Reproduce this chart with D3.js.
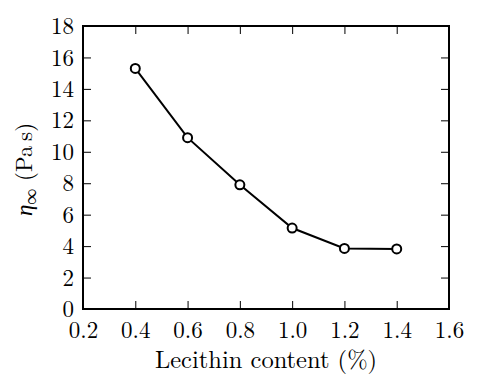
<!DOCTYPE html>
<html>
<head>
<meta charset="utf-8">
<script src="https://cdn.jsdelivr.net/npm/d3@7"></script>
<style>
  body { margin: 0; background: #fff; }
</style>
</head>
<body>
<svg width="480" height="391"></svg>
<script>
var lecithin = [0.4, 0.6, 0.8, 1.0, 1.2, 1.4];
var viscosity = [15.3, 10.9, 7.9, 5.15, 3.85, 3.82];
var xTicks = [0.2, 0.4, 0.6, 0.8, 1.0, 1.2, 1.4, 1.6];
var yTicks = [0, 2, 4, 6, 8, 10, 12, 14, 16, 18];

var FONT = "'Latin Modern Roman', 'Liberation Serif', serif";

var svg = d3.select("svg"),
    margin = {top: 26, right: 31, bottom: 82, left: 83},
    width = +svg.attr("width") - margin.left - margin.right,
    height = +svg.attr("height") - margin.top - margin.bottom;

var x = d3.scaleLinear().domain([0.2, 1.6]).range([0, width]),
    y = d3.scaleLinear().domain([0, 18]).range([height, 0]);

var g = svg.append("g")
    .attr("transform", "translate(" + margin.left + "," + margin.top + ")");

var tickLen = 8;

// inward ticks, mirrored on all four sides
function styleAxis(sel) {
    sel.attr("font-family", null).attr("font-size", null);
    sel.select(".domain").remove();
    sel.selectAll("line").attr("stroke", "#000").attr("stroke-width", 1);
    sel.selectAll("text")
        .style("font-family", FONT)
        .style("font-size", "23px")
        .attr("fill", "#000");
}

g.append("g")
    .attr("transform", "translate(0," + height + ")")
    .call(d3.axisBottom(x).tickValues(xTicks).tickFormat(d3.format(".1f"))
        .tickSizeInner(-tickLen).tickPadding(13))
    .call(styleAxis);

g.append("g")
    .call(d3.axisTop(x).tickValues(xTicks).tickFormat("").tickSizeInner(-tickLen))
    .call(styleAxis);

g.append("g")
    .call(d3.axisLeft(y).tickValues(yTicks).tickFormat(d3.format("d"))
        .tickSizeInner(-tickLen).tickPadding(9))
    .call(styleAxis)
    .selectAll("text").attr("dy", "0.33em");

g.append("g")
    .attr("transform", "translate(" + width + ",0)")
    .call(d3.axisRight(y).tickValues(yTicks).tickFormat("").tickSizeInner(-tickLen))
    .call(styleAxis);

g.append("rect")
    .attr("width", width)
    .attr("height", height)
    .attr("fill", "none")
    .attr("stroke", "#000")
    .attr("stroke-width", 2);

var line = d3.line()
    .x(function(d, i) { return x(lecithin[i]); })
    .y(function(d) { return y(d); });

g.append("path")
    .datum(viscosity)
    .attr("fill", "none")
    .attr("stroke", "#000")
    .attr("stroke-width", 2)
    .attr("d", line);

g.selectAll(".pt")
    .data(viscosity)
    .enter().append("circle")
    .attr("class", "pt")
    .attr("cx", function(d, i) { return x(lecithin[i]); })
    .attr("cy", function(d) { return y(d); })
    .attr("r", 4.5)
    .attr("fill", "#fff")
    .attr("stroke", "#000")
    .attr("stroke-width", 2);

svg.append("text")
    .attr("x", margin.left + width / 2)
    .attr("y", 368)
    .attr("text-anchor", "middle")
    .style("font-family", FONT)
    .style("font-size", "24.5px")
    .text("Lecithin content (%)");

var yl = svg.append("text")
    .attr("transform", "translate(32," + (margin.top + height / 2 + 2) + ") rotate(-90)")
    .attr("text-anchor", "middle")
    .style("font-family", FONT)
    .style("font-size", "23px");
yl.append("tspan").style("font-style", "italic").text("η");
yl.append("tspan").attr("dy", 4).style("font-size", "16px").text("∞");
yl.append("tspan").attr("dy", -4).text(" (Pa\u2009s)");
</script>
</body>
</html>
